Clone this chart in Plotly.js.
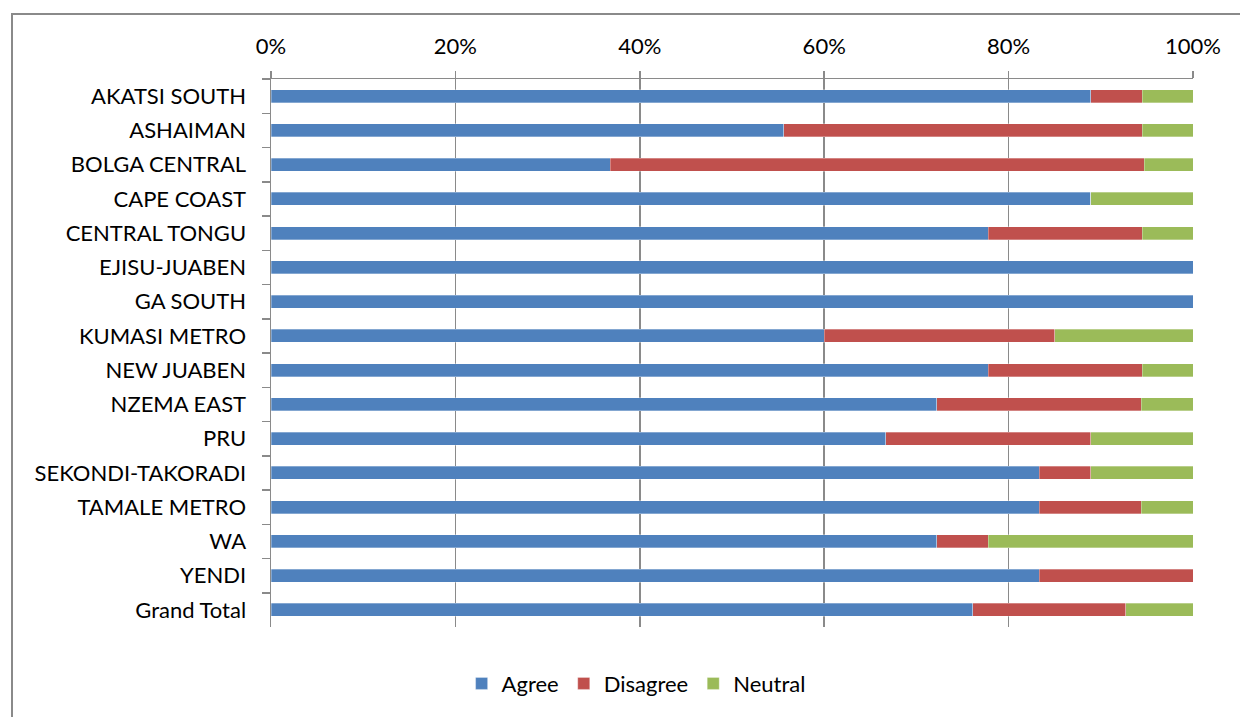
<!DOCTYPE html>
<html>
<head>
<meta charset="utf-8">
<script src="https://cdn.plot.ly/plotly-3.0.1.min.js"></script>
<style>
html,body{margin:0;padding:0;background:#fff;overflow:hidden;}
#frame{position:absolute;left:11px;top:13px;width:1300px;height:800px;border-left:2px solid #8a8a8a;border-top:2px solid #8a8a8a;}
#chart{position:absolute;left:0;top:0;width:1240px;height:717px;}
</style>
</head>
<body>
<div id="frame"></div>
<div id="chart"></div>
<script>
const categories = ["AKATSI SOUTH","ASHAIMAN","BOLGA CENTRAL","CAPE COAST","CENTRAL TONGU","EJISU-JUABEN","GA SOUTH","KUMASI METRO","NEW JUABEN","NZEMA EAST","PRU","SEKONDI-TAKORADI","TAMALE METRO","WA","YENDI","Grand Total"];
const agree    = [88.9, 55.6, 36.8, 88.9, 77.8, 100, 100, 60.0, 77.8, 72.2, 66.7, 83.3, 83.3, 72.2, 83.3, 76.1];
const disagree = [5.6, 38.9, 57.9, 0, 16.7, 0, 0, 25.0, 16.7, 22.2, 22.2, 5.6, 11.1, 5.6, 16.7, 16.6];
const neutral  = [5.5, 5.5, 5.3, 11.1, 5.5, 0, 0, 15.0, 5.5, 5.6, 11.1, 11.1, 5.6, 22.2, 0, 7.3];
const xTicks = [0, 20, 40, 60, 80, 100];
const xTickLabels = ["0%", "20%", "40%", "60%", "80%", "100%"];

const font = "Lato, 'Noto Sans', sans-serif";
function tr(name, vals, color){
  return {type:'bar', orientation:'h', name:name, y:categories, x:vals,
    marker:{color:color, line:{color:'rgba(255,255,255,0.6)', width:0.5}},
    hoverinfo:'x+y'};
}
const data = [
  tr('Agree', agree, '#4F81BD'),
  tr('Disagree', disagree, '#C0504D'),
  tr('Neutral', neutral, '#9BBB59')
];
const layout = {
  width:1240, height:717,
  margin:{l:271, r:47, t:79, b:86},
  barmode:'stack', bargap:0.62,
  paper_bgcolor:'rgba(0,0,0,0)', plot_bgcolor:'rgba(0,0,0,0)',
  font:{family:font, size:22, color:'#000'},
  showlegend:true,
  legend:{orientation:'h', x:0.396, xanchor:'center', y:-0.065, yanchor:'top', font:{size:22, family:font}, traceorder:'normal', itemwidth:30},
  xaxis:{side:'top', range:[0,100], tickvals:xTicks, ticktext:xTickLabels,
    showgrid:true, gridcolor:'#8a8a8a', gridwidth:1.5,
    showline:true, linecolor:'#8a8a8a', linewidth:1.5,
    ticks:'outside', ticklen:7, tickcolor:'#8a8a8a', tickwidth:1.5,
    zeroline:false, fixedrange:true, ticklabelstandoff:8},
  yaxis:{autorange:'reversed', type:'category',
    showline:true, linecolor:'#8a8a8a', linewidth:1.5,
    ticks:'outside', ticklen:8, tickcolor:'#8a8a8a', tickwidth:1.5, tickson:'boundaries',
    showgrid:false, ticklabelstandoff:19, fixedrange:true}
};
Plotly.newPlot('chart', data, layout, {displayModeBar:false, staticPlot:true});
</script>
</body>
</html>
